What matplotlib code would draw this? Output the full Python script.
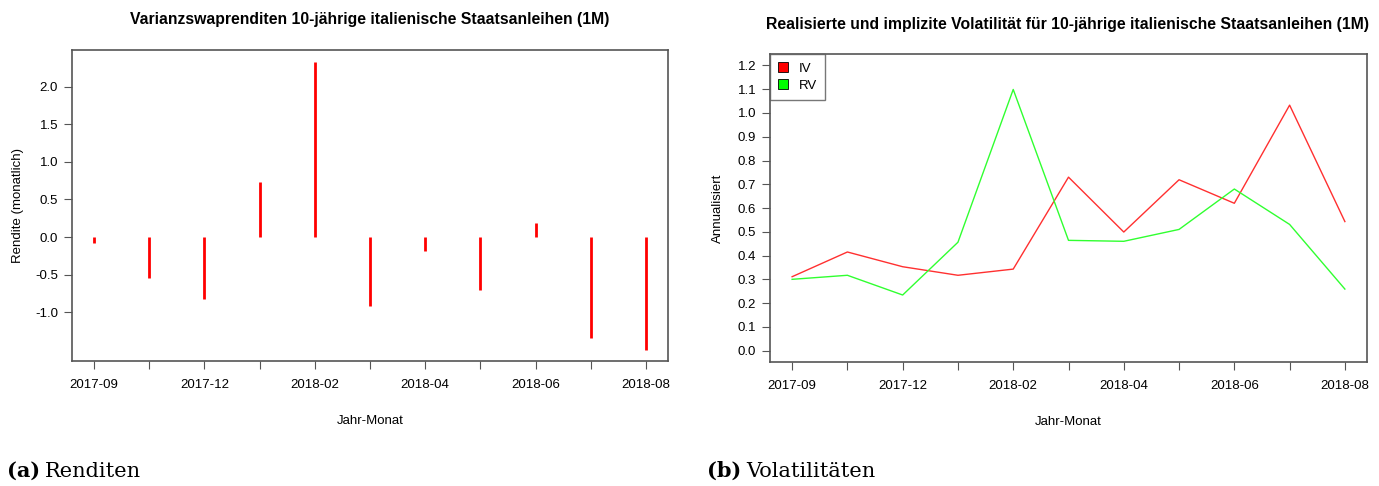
import numpy as np
import matplotlib.pyplot as plt
from matplotlib.patches import Patch

plt.rcParams['font.family'] = ['Liberation Sans', 'DejaVu Sans']

# Monate (nur jeder zweite beschriftet)
months = ['2017-09', '', '2017-12', '', '2018-02', '', '2018-04', '', '2018-06', '', '2018-08']
# Varianzswaprenditen (monatlich)
returns = [-0.08, -0.55, -0.83, 0.73, 2.33, -0.92, -0.18, -0.70, 0.19, -1.34, -1.50]
# implizite / realisierte Volatilitaet (annualisiert)
iv = [0.311, 0.415, 0.353, 0.317, 0.343, 0.730, 0.499, 0.719, 0.620, 1.033, 0.543]
rv = [0.300, 0.317, 0.234, 0.456, 1.099, 0.464, 0.460, 0.510, 0.680, 0.531, 0.259]

frame_col = '#555555'
x = np.arange(len(months))

fig = plt.figure(figsize=(13.79, 4.86), dpi=100)
ax1 = fig.add_axes([72 / 1379, 0.2572, 596 / 1379, 0.640])
ax2 = fig.add_axes([770 / 1379, 0.2551, 597 / 1379, 0.6337])


def r_style(ax):
    for s in ax.spines.values():
        s.set_color(frame_col)
        s.set_linewidth(1.2)
    ax.tick_params(axis='both', length=6, width=0.8, color=frame_col,
                   labelsize=9.5, pad=4)
    ax.tick_params(axis='x', pad=7)
    ax.set_xticks(x)
    ax.set_xticklabels(months)
    ax.set_xlim(-0.4, 10.4)
    ax.set_xlabel('Jahr-Monat', fontsize=9.5, labelpad=17)


# links: Renditen
ax1.vlines(x, 0, returns, color='red', linewidth=2)
ax1.set_ylim(-1.65, 2.49)
yt1 = [-1.0, -0.5, 0.0, 0.5, 1.0, 1.5, 2.0]
ax1.set_yticks(yt1)
ax1.set_yticklabels(['%.1f' % v for v in yt1])
ax1.set_ylabel('Rendite (monatlich)', fontsize=9.5, labelpad=8)
r_style(ax1)

# rechts: Volatilitaeten
ax2.plot(x, iv, color='#ff3030', linewidth=1)
ax2.plot(x, rv, color='#30ff30', linewidth=1)
ax2.set_ylim(-0.048, 1.248)
yt = np.round(np.arange(0, 1.21, 0.1), 1)
ax2.set_yticks(yt)
ax2.set_yticklabels(['%.1f' % v for v in yt])
ax2.set_ylabel('Annualisiert', fontsize=9.5, labelpad=10)
r_style(ax2)
handles = [Patch(facecolor='red', edgecolor='black', linewidth=0.6, label='IV'),
           Patch(facecolor='#00ff00', edgecolor='black', linewidth=0.6, label='RV')]
leg = ax2.legend(handles=handles, loc='upper left', borderaxespad=0, fancybox=False,
                 edgecolor=frame_col, fontsize=9.5, handlelength=0.8, handleheight=0.8,
                 handletextpad=0.8, borderpad=0.6, labelspacing=0.35)
leg.get_frame().set_linewidth(1.0)

# Titel
fig.text(370 / 1379, 0.960, 'Varianzswaprenditen 10-jährige italienische Staatsanleihen (1M)',
         ha='center', va='center', fontsize=11.3, fontweight='bold')
fig.text(1068 / 1379, 0.950, 'Realisierte und implizite Volatilität für 10-jährige italienische Staatsanleihen (1M)',
         ha='center', va='center', fontsize=11.3, fontweight='bold')

# Unterschriften
for xc, lab, txt in [(0.005, '(a)', 'Renditen'), (0.5125, '(b)', 'Volatilitäten')]:
    t = fig.text(xc, 0.018, lab, family='DejaVu Serif', fontsize=15, fontweight='bold')
    fig.canvas.draw()
    bb = t.get_window_extent()
    fig.text((bb.x1 + 5) / 1379, 0.018, txt, family='DejaVu Serif', fontsize=15)

fig.savefig('out.png', dpi=100)
